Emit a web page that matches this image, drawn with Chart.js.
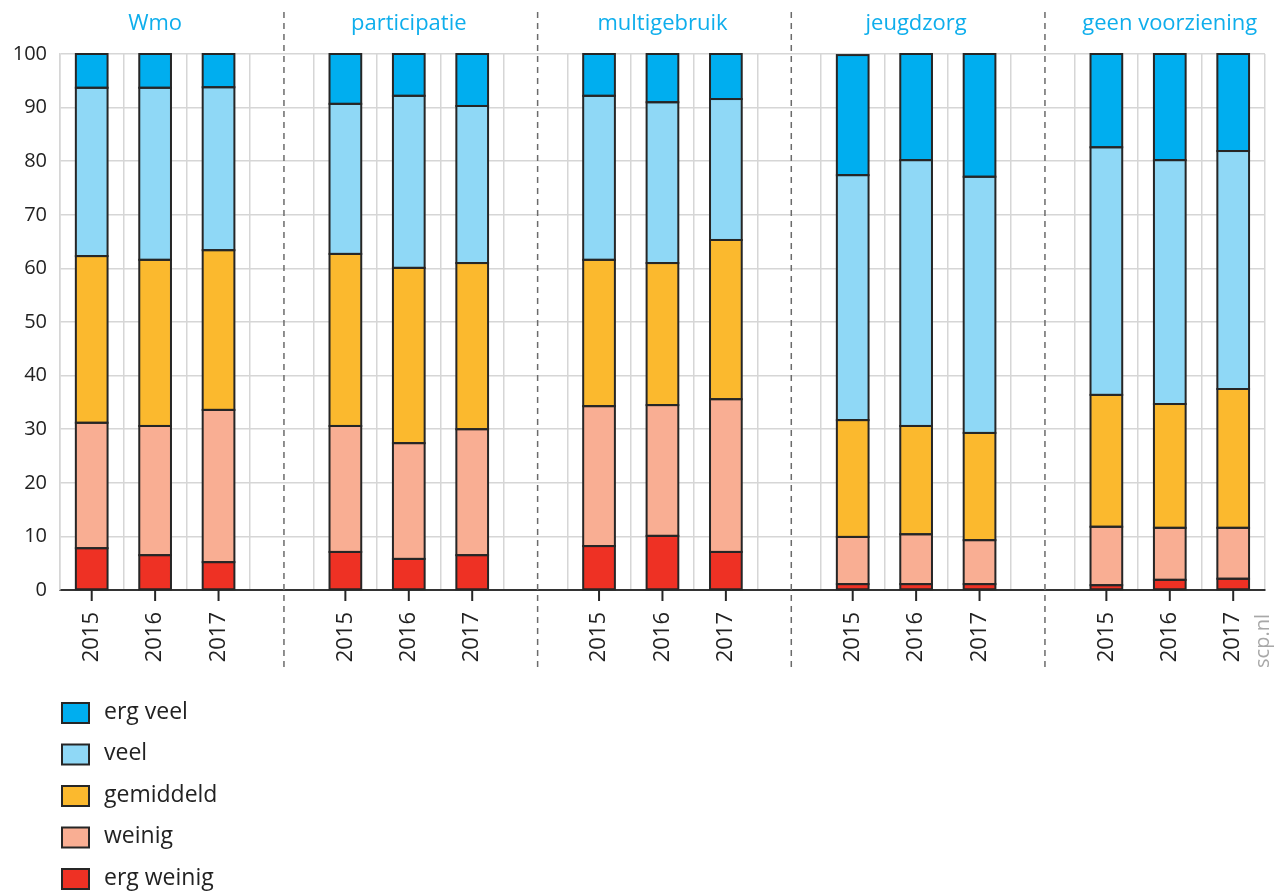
<!DOCTYPE html>
<html>
<head>
<meta charset="utf-8">
<script src="https://cdn.jsdelivr.net/npm/chart.js@4.4.0/dist/chart.umd.min.js"></script>
<style>
  body { margin: 0; background: #fff; }
  #wrap { width: 1282px; height: 894px; position: relative; }
</style>
</head>
<body>
<div id="wrap"><canvas id="myChart"></canvas></div>
<script>
// groups and years
var groups = ['Wmo', 'participatie', 'multigebruik', 'jeugdzorg', 'geen voorziening'];
var years = ['2015', '2016', '2017'];

// segment sizes (%) per bar, 3 years per group, in group order
var ergWeinig = [7.8, 6.5, 5.2,  7.1, 5.8, 6.5,  8.2, 10.1, 7.1,  1.1, 1.1, 1.1,  0.9, 1.9, 2.1];
var weinig    = [23.4, 24.1, 28.4,  23.5, 21.6, 23.5,  26.1, 24.4, 28.5,  8.8, 9.3, 8.2,  10.9, 9.7, 9.5];
var gemiddeld = [31.1, 31.0, 29.8,  32.1, 32.7, 31.0,  27.3, 26.5, 29.7,  21.8, 20.2, 20.0,  24.6, 23.1, 25.9];
var veel      = [31.4, 32.1, 30.4,  28.0, 32.1, 29.3,  30.6, 30.0, 26.3,  45.7, 49.6, 47.8,  46.2, 45.5, 44.4];
var ergVeel   = [6.3, 6.3, 6.2,  9.3, 7.8, 9.7,  7.8, 9.0, 8.4,  22.4, 19.8, 22.9,  17.4, 19.8, 18.1];

var yTicks = [0, 10, 20, 30, 40, 50, 60, 70, 80, 90, 100];

// build category slots: 3 bars + an empty spacer slot between groups
var labels = [];
function slots(arr){
  var out = [];
  for (var g = 0; g < groups.length; g++){
    for (var i = 0; i < years.length; i++){
      out.push(arr[g * 3 + i]);
    }
    if (g < groups.length - 1) out.push(null);
  }
  return out;
}
for (var g = 0; g < groups.length; g++){
  years.forEach(function(y){ labels.push(y); });
  if (g < groups.length - 1) labels.push('');
}

var FONT = '"Open Sans", "Noto Sans", sans-serif';
var TXT = '#222222';
var EDGE = '#262626';

function ds(label, data, color){
  return {
    label: label,
    data: slots(data),
    backgroundColor: color,
    borderWidth: 0,
    barPercentage: 0.5,
    categoryPercentage: 1.0
  };
}

// even outlines round every segment, taken from the bar elements
var outlines = {
  id: 'outlines',
  afterDatasetsDraw: function(chart){
    var ctx = chart.ctx;
    ctx.save();
    ctx.strokeStyle = EDGE;
    ctx.lineWidth = 2;
    chart.data.datasets.forEach(function(d, di){
      chart.getDatasetMeta(di).data.forEach(function(bar, i){
        if (d.data[i] == null) return;
        var p = bar.getProps(['x', 'y', 'base', 'width'], true);
        ctx.strokeRect(p.x - p.width / 2, Math.min(p.y, p.base), p.width, Math.abs(p.base - p.y));
      });
    });
    ctx.restore();
  }
};

// group titles, dashed separators, tick marks, legend, source
var decor = {
  id: 'decor',
  afterDraw: function(chart){
    var ctx = chart.ctx;
    var xs = chart.scales.x;
    var area = chart.chartArea;
    ctx.save();

    // dashed separators in the empty slots
    ctx.strokeStyle = '#6b6b6b';
    ctx.lineWidth = 1.5;
    ctx.setLineDash([6, 5]);
    for (var g = 0; g < groups.length - 1; g++){
      var px = xs.getPixelForValue(g * 4 + 3) + 2;
      ctx.beginPath();
      ctx.moveTo(px, 12);
      ctx.lineTo(px, 672);
      ctx.stroke();
    }
    ctx.setLineDash([]);

    // group titles
    ctx.fillStyle = '#0eaeec';
    ctx.font = '22px ' + FONT;
    ctx.textAlign = 'center';
    ctx.textBaseline = 'middle';
    for (var g2 = 0; g2 < groups.length; g2++){
      ctx.fillText(groups[g2], xs.getPixelForValue(g2 * 4 + 1), 24);
    }

    // tick marks under the bars
    ctx.strokeStyle = EDGE;
    ctx.lineWidth = 2;
    for (var i = 0; i < labels.length; i++){
      if (labels[i] === '') continue;
      var tx = xs.getPixelForValue(i);
      ctx.beginPath();
      ctx.moveTo(tx, area.bottom);
      ctx.lineTo(tx, area.bottom + 11);
      ctx.stroke();
    }

    // legend (top item = top of stack)
    var list = chart.data.datasets.slice().reverse();
    ctx.font = '23px ' + FONT;
    ctx.textAlign = 'left';
    ctx.textBaseline = 'middle';
    list.forEach(function(d, k){
      var cy = 713 + k * 41.5;
      ctx.fillStyle = d.backgroundColor;
      ctx.fillRect(62, cy - 10, 27, 20);
      ctx.strokeStyle = EDGE;
      ctx.lineWidth = 2;
      ctx.strokeRect(62, cy - 10, 27, 20);
      ctx.fillStyle = TXT;
      ctx.fillText(d.label, 104, cy - 1);
    });

    // source
    ctx.translate(1263, 641);
    ctx.rotate(-Math.PI / 2);
    ctx.fillStyle = '#a8a8a8';
    ctx.font = '20px ' + FONT;
    ctx.textAlign = 'center';
    ctx.textBaseline = 'middle';
    ctx.fillText('scp.nl', 0, 0);
    ctx.restore();
  }
};

new Chart(document.getElementById('myChart'), {
  type: 'bar',
  data: {
    labels: labels,
    datasets: [
      ds('erg weinig', ergWeinig, '#ee3124'),
      ds('weinig', weinig, '#f9ae93'),
      ds('gemiddeld', gemiddeld, '#fbb92e'),
      ds('veel', veel, '#8fd8f6'),
      ds('erg veel', ergVeel, '#00aeef')
    ]
  },
  options: {
    responsive: true,
    maintainAspectRatio: false,
    animation: false,
    layout: { padding: { top: 54, right: 15, bottom: 204, left: 0 } },
    plugins: {
      legend: { display: false },
      tooltip: { enabled: false }
    },
    scales: {
      x: {
        stacked: true,
        afterFit: function(s){ s.height = 100; },
        grid: { color: '#d6d6d6', lineWidth: 1.5, offset: true, drawTicks: false },
        border: { color: '#333333', width: 2 },
        ticks: {
          autoSkip: false,
          minRotation: 90,
          maxRotation: 90,
          padding: 22,
          color: TXT,
          font: { family: FONT, size: 22 }
        }
      },
      y: {
        stacked: true,
        min: 0,
        max: 100,
        afterFit: function(s){ s.width = 60; },
        afterBuildTicks: function(s){ s.ticks = yTicks.map(function(v){ return { value: v }; }); },
        grid: { color: '#d6d6d6', lineWidth: 1.5, drawTicks: false },
        border: { color: '#d6d6d6', width: 1.5 },
        ticks: {
          padding: 13,
          color: TXT,
          font: { family: FONT, size: 20 }
        }
      }
    }
  },
  plugins: [outlines, decor]
});
</script>
</body>
</html>
